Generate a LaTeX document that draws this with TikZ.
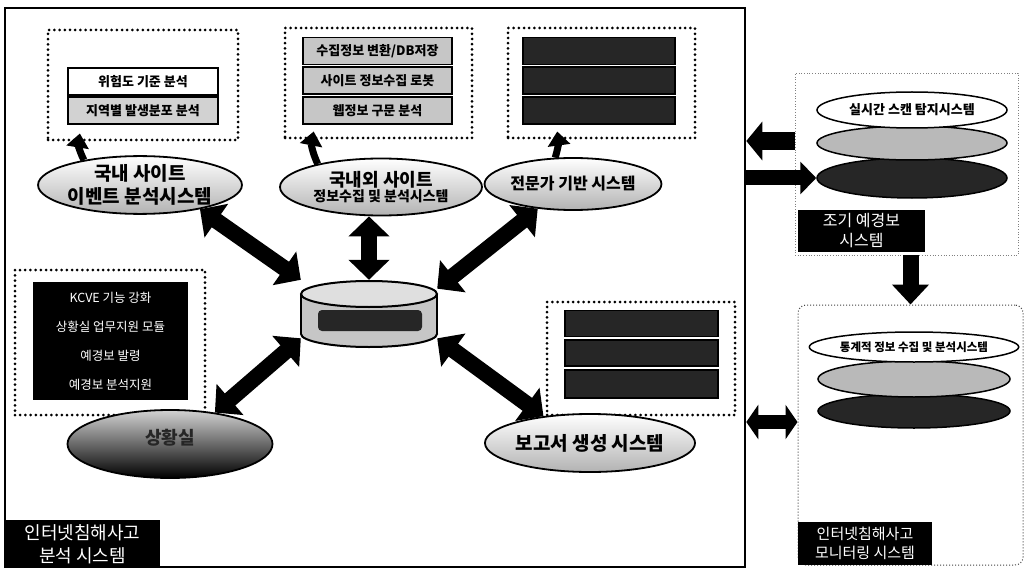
\documentclass[tikz,border=0pt]{standalone}
\usepackage{fontspec}
\setmainfont{Noto Sans CJK KR}
\usetikzlibrary{arrows.meta,shapes.geometric,calc}
\newcommand\myfs[2]{\fontsize{#1}{#2}\selectfont}
\tikzset{
 dotbox/.style={draw, line width=3pt, dash pattern=on 0pt off 5.2pt, line cap=round, inner sep=0pt},
 ibox/.style={draw, line width=1.6pt, inner sep=0pt, minimum height=27pt, font=\bfseries\myfs{13}{15}},
 dkbox/.style={ibox, fill=black!85},
 ell/.style={ellipse, draw, line width=1.8pt, inner sep=0pt, align=center, top color=white, bottom color=gray!60},
 lab/.style={fill=black, text=white, inner sep=0pt, align=center},
 fatd/.style={line width=16pt, {Triangle[length=20pt,width=40pt]}-{Triangle[length=20pt,width=40pt]}},
 cup/.style={line width=7pt, -{Triangle[length=14pt,width=22pt]}},
}
\begin{document}
\begin{tikzpicture}[x=1pt,y=-1pt]
\useasboundingbox (0,0) rectangle (1027,572);
% main frame
\node[draw, line width=2.6pt, minimum width=740pt, minimum height=559pt, inner sep=0pt] (frame) at (375,287.5) {};
% dotted detail boxes
\node[dotbox, minimum width=190pt, minimum height=110pt] (d1) at (143,85) {};
\node[dotbox, minimum width=187pt, minimum height=110pt] (d2) at (378.5,83) {};
\node[dotbox, minimum width=187pt, minimum height=110pt] (d3) at (601.5,83) {};
\node[dotbox, minimum width=190pt, minimum height=145pt] (d4) at (110,342.5) {};
\node[dotbox, minimum width=188pt, minimum height=113pt] (d5) at (641,358.5) {};
% inner boxes
\node[ibox, fill=white, minimum width=150pt] (b11) at (143,81.5) {위험도 기준 분석};
\node[ibox, fill=gray!35, minimum width=150pt] (b12) at (143,110.5) {지역별 발생분포 분석};
\node[ibox, fill=gray!45, minimum width=149pt] (b21) at (377.5,51) {수집정보 변환/DB저장};
\node[ibox, fill=gray!45, minimum width=149pt] (b22) at (377.5,80.5) {사이트 정보수집 로봇};
\node[ibox, fill=gray!45, minimum width=149pt] (b23) at (377.5,110.5) {웹정보 구문 분석};
\node[dkbox, minimum width=152pt] (b31) at (599,51) {};
\node[dkbox, minimum width=152pt] (b32) at (599,80.5) {};
\node[dkbox, minimum width=152pt] (b33) at (599,110.5) {};
\node[fill=black, text=white, inner sep=0pt, align=center, minimum width=155pt, minimum height=118pt, font=\myfs{12.5}{29}] (b4) at (110.5,341) {KCVE 기능 강화\\상황실 업무지원 모듈\\예경보 발령\\예경보 분석지원};
\node[dkbox, minimum width=153pt, minimum height=26pt] (b51) at (641.5,323.5) {};
\node[dkbox, minimum width=153pt, minimum height=26pt] (b52) at (641.5,353) {};
\node[dkbox, minimum width=153pt, minimum height=28pt] (b53) at (641.5,384) {};
% ellipses
\node[ell, minimum width=200pt, minimum height=56pt, font=\bfseries\myfs{19}{23}] (e1) at (140,185) {국내 사이트\\이벤트 분석시스템};
\node[ell, minimum width=202pt, minimum height=57pt, font=\bfseries] (e2) at (381,187) {\myfs{18}{22}국내외 사이트\\\myfs{14}{16}정보수집 및 분석시스템};
\node[ell, minimum width=153pt, minimum height=52pt, font=\bfseries\myfs{16}{18}] (e3) at (573,184) {전문가 기반 시스템};
\node[ell, minimum width=205pt, minimum height=68pt, top color=gray!35, bottom color=black, font=\bfseries\myfs{18}{20}, text=black!85] (e4) at (170,444) {\raisebox{14pt}{상황실}};
\node[ell, minimum width=200pt, minimum height=58pt, font=\bfseries\myfs{19}{21}] (e5) at (590,443) {보고서 생성 시스템};
% database cylinder
\node[minimum width=136pt, minimum height=67pt, inner sep=0pt] (db) at (369,313.5) {};
\filldraw[fill=gray!45, line width=2pt] (369,334) ellipse [x radius=68, y radius=13];
\fill[gray!45] (301,294) rectangle (437,334);
\draw[line width=2pt] (301,294) -- (301,334) (437,294) -- (437,334);
\filldraw[fill=gray!25, line width=2pt] (369,294) ellipse [x radius=68, y radius=13];
\fill[black!85, rounded corners=4pt] (318,310) rectangle (422,331);
% small up arrows
\draw[cup] (e1.156) to[bend left=18] ($(d1.south -| e1.156)+(-4,-8)$);
\draw[cup] (e2.160) to[bend left=18] ($(d2.south -| e2.160)+(-4,-8)$);
\draw[cup] (e3.124) to[bend right=12] ($(d3.south -| e3.124)+(2,-8)$);
% central double arrows
\draw[fatd] (e1.-22) -- (db.north west);
\draw[fatd] (e2.south -| db.north) -- (db.north);
\draw[fatd] (e3.-145) -- (db.20);
\draw[fatd] (db.200) -- (e4.35);
\draw[fatd] (db.-20) -- (e5.150);
% right side: early warning system
\node[draw=gray, dotted, line width=0.7pt, minimum width=223pt, minimum height=182pt, inner sep=0pt] (ur) at (906.5,164) {};
\node[ellipse, draw, line width=1.5pt, fill=black!85, minimum width=190pt, minimum height=40pt, inner sep=0pt] (r3) at (912,178) {};
\node[ellipse, draw, line width=1.5pt, fill=gray!55, minimum width=190pt, minimum height=34pt, inner sep=0pt] (r2) at (912,143) {};
\node[ellipse, draw, line width=1.5pt, fill=white, minimum width=190pt, minimum height=36pt, inner sep=0pt, font=\bfseries\myfs{13}{15}] (r1) at (912,110) {실시간 스캔 탐지시스템};
\node[lab, minimum width=127pt, minimum height=42pt, font=\myfs{16}{20}] (lab2) at (861.5,231) {조기 예경보\\시스템};
% right side: monitoring system
\node[draw=black!75, dotted, rounded corners=8pt, line width=1pt, minimum width=225pt, minimum height=260pt, inner sep=0pt] (lr) at (910.5,435) {};
\node[ellipse, draw, line width=1.5pt, fill=black!85, minimum width=192pt, minimum height=34pt, inner sep=0pt] (s3) at (914,411) {};
\node[ellipse, draw, line width=1.5pt, fill=gray!55, minimum width=192pt, minimum height=36pt, inner sep=0pt] (s2) at (914,379) {};
\node[ellipse, draw, line width=1.5pt, fill=white, minimum width=192pt, minimum height=30pt, inner sep=0pt, font=\bfseries\myfs{11.5}{13}] (s1) at (914,347) {통계적 정보 수집 및 분석시스템};
\node[lab, minimum width=134pt, minimum height=43pt, font=\myfs{15}{19}] (lab3) at (865,543.5) {인터넷침해사고\\모니터링 시스템};
\node[lab, minimum width=155pt, minimum height=48pt, font=\myfs{18}{23}] (lab1) at (82.5,544) {인터넷침해사고\\분석 시스템};
% arrows between systems
\coordinate (m1) at (0,141);
\coordinate (m2) at (0,422);
\draw[line width=18pt, -{Triangle[length=16pt,width=38pt]}] (ur.west |- m1) -- (frame.east |- m1);
\draw[line width=15pt, -{Triangle[length=16pt,width=32pt]}] (frame.east |- r3.west) -- (r3.west);
\draw[line width=16pt, -{Triangle[length=20pt,width=36pt]}] (ur.south -| lr.north) -- (lr.north);
\draw[line width=14pt, {Triangle[length=12pt,width=34pt]}-{Triangle[length=12pt,width=34pt]}] (frame.east |- m2) -- (lr.west |- m2);
\end{tikzpicture}
\end{document}
